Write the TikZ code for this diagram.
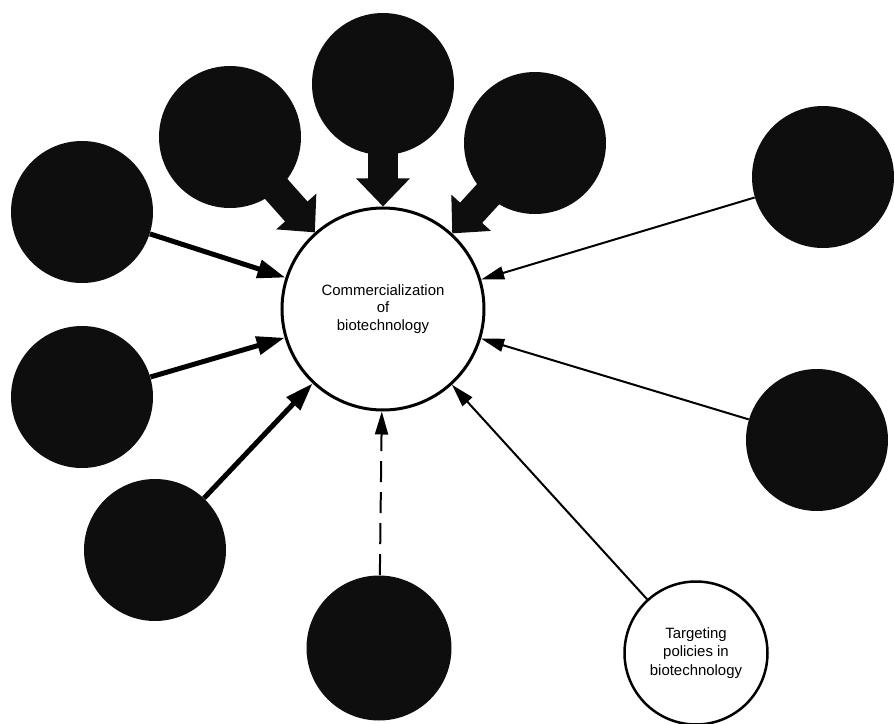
\documentclass[tikz,border=0pt]{standalone}
\usepackage{fontspec}
\setmainfont{Liberation Sans}
\usepackage{xcolor}
\usepackage{tikz}
\usetikzlibrary{arrows.meta}
\definecolor{Ink}{HTML}{000000}
\definecolor{Dark}{HTML}{0E0E0E}

\begin{document}
\begin{tikzpicture}[x=0.2mm, y=-0.2mm,
  factor/.style={circle, fill=Dark, minimum size=28.4mm, inner sep=0pt},
  hub/.style={circle, draw=Ink, line width=0.6mm, fill=white,
    minimum size=40.4mm, inner sep=0pt, align=center,
    font=\fontsize{8.5}{10}\selectfont, text=Ink},
  policy/.style={circle, draw=Ink, line width=0.5mm, fill=white,
    minimum size=28.6mm, inner sep=0pt, align=center,
    font=\fontsize{8.5}{10.5}\selectfont, text=Ink},
  block/.style={line width=6mm, draw=Dark, -{Triangle[width=10.4mm, length=5.6mm]}},
  heavy/.style={line width=1mm, draw=Ink, -{Triangle[width=3.6mm, length=5.6mm]}},
  light/.style={line width=0.4mm, draw=Ink, -{Triangle[width=2.6mm, length=4.6mm]}}
]
  \useasboundingbox (0,0) rectangle (894,724);

  \node[hub] (commerce) at (383,309) {Commercialization\\of\\biotechnology};
  \node[factor] (topmid) at (383,84) {};
  \node[factor] (topleft) at (230,137) {};
  \node[factor] (topright) at (535,143) {};
  \node[factor] (leftup) at (82,212) {};
  \node[factor] (leftmid) at (82,397) {};
  \node[factor] (leftlow) at (155,550) {};
  \node[factor, minimum size=29mm] (bottom) at (379,648) {};
  \node[factor] (rightup) at (823,177) {};
  \node[factor] (rightmid) at (817,440) {};
  \node[policy] (targeting) at (696,653) {Targeting\\policies in\\biotechnology};

  \draw[block] (topmid.center) -- (commerce);
  \draw[block] (topleft.center) -- (commerce);
  \draw[block] (topright.center) -- (commerce);
  \draw[heavy] (leftup) -- (commerce);
  \draw[heavy] (leftmid) -- (commerce);
  \draw[heavy] (leftlow) -- (commerce);
  \draw[light, dash pattern=on 4.2mm off 2mm] (bottom) -- (commerce);
  \draw[light] (rightup) -- (commerce);
  \draw[light] (rightmid) -- (commerce);
  \draw[light] (targeting) -- (commerce);
\end{tikzpicture}
\end{document}
